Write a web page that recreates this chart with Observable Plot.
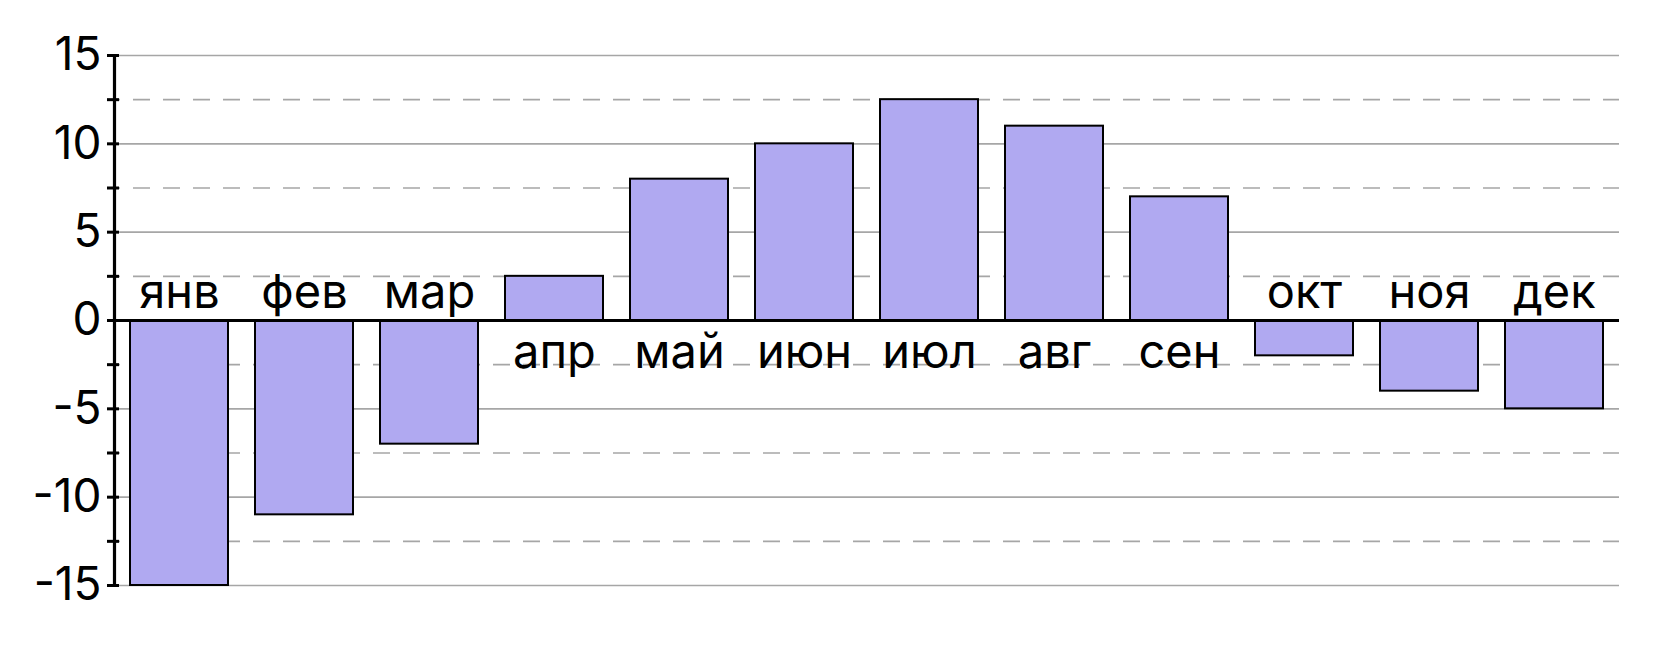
<!DOCTYPE html>
<html>
<head>
<meta charset="utf-8">
<script src="https://cdn.jsdelivr.net/npm/d3@7"></script>
<script src="https://cdn.jsdelivr.net/npm/@observablehq/plot@0.6"></script>
<style>
  html, body { margin: 0; padding: 0; background: #fff; }
  svg { display: block; }
</style>
</head>
<body>
<div id="chart"></div>
<script>
const months = ["янв","фев","мар","апр","май","июн","июл","авг","сен","окт","ноя","дек"];
const values = [-15, -11, -7, 2.5, 8, 10, 12.5, 11, 7, -2, -4, -5];
const majorTicks = [-15, -10, -5, 0, 5, 10, 15];
const minorTicks = [-12.5, -7.5, -2.5, 2.5, 7.5, 12.5];
const allTicks = [-15, -12.5, -10, -7.5, -5, -2.5, 0, 2.5, 5, 7.5, 10, 12.5, 15];

const data = months.map((m, i) => ({month: m, value: values[i]}));
const font = "Inter, 'Liberation Sans', Arial, sans-serif";

const chart = Plot.plot({
  width: 1664,
  height: 649,
  marginLeft: 114,
  marginRight: 45,
  marginTop: 55,
  marginBottom: 64,
  style: {fontFamily: font, background: "#fff"},
  x: {domain: months, paddingInner: 0.219, paddingOuter: 0.1, axis: null},
  y: {domain: [-15, 15], axis: null},
  marks: [
    Plot.ruleY(majorTicks.filter(d => d !== 0), {stroke: "#a6a6a6", strokeWidth: 1.6}),
    Plot.ruleY(minorTicks, {stroke: "#a6a6a6", strokeWidth: 1.6, strokeDasharray: "17,13", strokeDashoffset: -19}),
    Plot.barY(data, {x: "month", y: "value", fill: "#b0a9f1", stroke: "#000", strokeWidth: 2}),
    Plot.ruleY([0], {stroke: "#000", strokeWidth: 3.2}),
    Plot.frame({anchor: "left", stroke: "#000", strokeWidth: 3.2}),
    Plot.axisY({
      ticks: allTicks,
      label: null,
      tickSize: 12,
      dx: 5,
      tickPadding: 6,
      tickFormat: d => (d % 5 === 0 ? String(d) : ""),
      fontSize: 46,
      letterSpacing: 1,
      fontVariant: "normal",
      stroke: "#000",
      strokeWidth: 3,
      strokeOpacity: 1,
      fill: "#000",
      strokeLinecap: "butt"
    }),
    Plot.text(data, {
      x: "month",
      y: () => 0,
      text: "month",
      lineAnchor: "bottom",
      fontSize: 47,
      letterSpacing: 2,
      fill: "#000",
      filter: d => d.value < 0,
      dy: -13
    }),
    Plot.text(data, {
      x: "month",
      y: () => 0,
      text: "month",
      lineAnchor: "bottom",
      fontSize: 47,
      letterSpacing: 2,
      fill: "#000",
      filter: d => d.value >= 0,
      dy: 47
    })
  ]
});
document.getElementById("chart").appendChild(chart);
</script>
</body>
</html>
